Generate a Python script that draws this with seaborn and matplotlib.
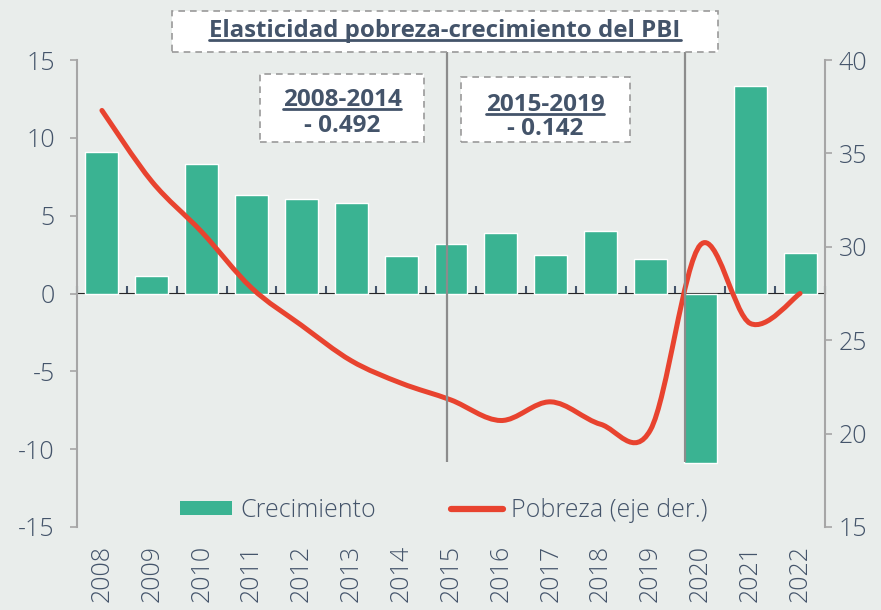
import numpy as np
import pandas as pd
import matplotlib
matplotlib.use("Agg")
import matplotlib.pyplot as plt
import seaborn as sns
from matplotlib.path import Path
from matplotlib.patches import PathPatch, Rectangle, Patch
from matplotlib.lines import Line2D

# =========================
# Datos
# =========================

anios = ["2008", "2009", "2010", "2011", "2012", "2013", "2014", "2015",
         "2016", "2017", "2018", "2019", "2020", "2021", "2022"]
crecimiento = [9.1, 1.1, 8.3, 6.3, 6.1, 5.8, 2.4, 3.2, 3.9, 2.5, 4.0, 2.2, -10.9, 13.3, 2.6]
pobreza = [37.3, 33.5, 30.8, 27.8, 25.8, 23.9, 22.7, 21.8, 20.7, 21.7, 20.5, 20.2, 30.1, 25.9, 27.5]

titulo = "Elasticidad pobreza-crecimiento del PBI"
periodos = ["2008-2014", "2015-2019"]
elasticidades = ["- 0.492", "- 0.142"]

df = pd.DataFrame({"anio": anios, "crecimiento": crecimiento, "pobreza": pobreza})

# =========================
# Estilo
# =========================

fondo = "#E9EDEB"
verde = "#3AB392"
rojo = "#E8432F"
texto = "#44546A"
gris = "#A6A6A6"

sns.set_style("white")
plt.rcParams["font.family"] = ["Open Sans", "DejaVu Sans"]
plt.rcParams["axes.unicode_minus"] = False

W, H = 881, 610
fig = plt.figure(figsize=(W / 100, H / 100), dpi=100, facecolor=fondo)
ax = fig.add_axes([77 / W, 1 - 527 / H, (825 - 77) / W, (527 - 60) / H])
ax.set_facecolor(fondo)

# barras de crecimiento
sns.barplot(data=df, x="anio", y="crecimiento", color=verde, saturation=1,
            width=0.66, ax=ax, zorder=2)
ax.set_xlim(-0.5, len(anios) - 0.5)
ax.set_ylim(-15, 15)
ax.set_yticks(range(-15, 16, 5))
ax.set_xlabel("")
ax.set_ylabel("")

for s in ["top", "right", "bottom"]:
    ax.spines[s].set_visible(False)
ax.spines["left"].set_color(gris)
ax.spines["left"].set_linewidth(1.5)
ax.tick_params(axis="y", direction="out", length=5, width=1.2, color=gris,
               labelsize=18, labelcolor=texto, pad=11)
ax.tick_params(axis="x", length=0, labelsize=18, labelcolor=texto, pad=13,
               labelrotation=90)
for lab in ax.get_xticklabels() + ax.get_yticklabels():
    lab.set_fontweight("light")

# eje cero con marcas entre categorias
eje0 = ax.secondary_xaxis(0.5)
eje0.spines["bottom"].set_color(texto)
eje0.spines["bottom"].set_linewidth(1.5)
eje0.set_xticks(np.arange(-0.5, len(anios), 1.0))
eje0.set_xticklabels([])
eje0.tick_params(axis="x", direction="out", length=5, width=1.5, color=texto)

# eje derecho: pobreza
ax2 = ax.twinx()
ax2.set_ylim(15, 40)
ax2.set_yticks(range(15, 41, 5))
for s in ["top", "left", "bottom"]:
    ax2.spines[s].set_visible(False)
ax2.spines["right"].set_color(gris)
ax2.spines["right"].set_linewidth(1.5)
ax2.tick_params(axis="y", direction="out", length=5, width=1.2, color=gris,
                labelsize=18, labelcolor=texto, pad=5)
for lab in ax2.get_yticklabels():
    lab.set_fontweight("light")

# linea suavizada (bezier por tramos entre los puntos)
xs = np.arange(len(anios), dtype=float)
ys = np.array(pobreza, dtype=float)
pts = np.column_stack([xs, ys])
verts = [pts[0]]
codes = [Path.MOVETO]
for i in range(len(pts) - 1):
    p0 = pts[i - 1] if i > 0 else pts[i]
    p3 = pts[i + 2] if i + 2 < len(pts) else pts[i + 1]
    c1 = pts[i] + (pts[i + 1] - p0) / 6
    c2 = pts[i + 1] - (p3 - pts[i]) / 6
    verts += [c1, c2, pts[i + 1]]
    codes += [Path.CURVE4] * 3
ax2.add_patch(PathPatch(Path(verts, codes), facecolor="none", edgecolor=rojo,
                        lw=3.6, capstyle="round", zorder=3))

# lineas verticales de periodos
ax2.vlines([6.92, 11.69], -10.85, 15.6, colors="#8C8C8C", lw=1.6,
           transform=ax.transData, clip_on=False, zorder=4)

# leyenda
handles = [Patch(facecolor=verde, edgecolor="none"),
           Line2D([0], [0], color=rojo, lw=4.5, solid_capstyle="round")]
leg = ax2.legend(handles, ["Crecimiento", "Pobreza (eje der.)"], ncol=2,
                 loc="center", bbox_to_anchor=(0.49, 0.036), frameon=False,
                 prop={"size": 18, "weight": "light"}, labelcolor=texto,
                 handlelength=2.1, handleheight=0.5, handletextpad=0.3,
                 columnspacing=3.0)

# =========================
# Recuadros de texto
# =========================

def fx(px):
    return px / W

def fy(py):
    return 1 - py / H

def caja(x0, y0, x1, y1):
    fig.add_artist(Rectangle((fx(x0), fy(y1)), fx(x1) - fx(x0), fy(y0) - fy(y1),
                             transform=fig.transFigure, facecolor="white",
                             edgecolor="#9A9A9A", lw=1.2, ls=(0, (4, 3)), zorder=5))

def subrayar(t, off=3):
    fig.canvas.draw()
    bb = t.get_window_extent(renderer=fig.canvas.get_renderer())
    _, by = t.get_transform().transform(t.get_position())
    inv = fig.transFigure.inverted()
    (a0, b0), (a1, _) = inv.transform([(bb.x0, by - off), (bb.x1, by - off)])
    fig.add_artist(Line2D([a0, a1], [b0, b0], transform=fig.transFigure,
                          color=texto, lw=2, zorder=7))

caja(172, 11, 718, 52)
t = fig.text(fx(445), fy(37), titulo, ha="center", va="baseline",
             fontsize=17.3, fontweight="bold", color=texto, zorder=6)
subrayar(t)

for (cx, x0, x1, y0, y1, b1, b2), per, el in zip(
        [(342, 260, 424, 74, 142, 106, 132), (545, 461, 630, 77, 142, 111, 135)],
        periodos, elasticidades):
    caja(x0, y0, x1, y1)
    t = fig.text(fx(cx), fy(b1), per, ha="center", va="baseline", fontsize=17.5,
                 fontweight="bold", color=texto, zorder=6)
    subrayar(t)
    fig.text(fx(cx), fy(b2), el, ha="center", va="baseline", fontsize=17.5,
             fontweight="bold", color=texto, zorder=6)

fig.savefig("out.png", dpi=100, facecolor=fondo)
